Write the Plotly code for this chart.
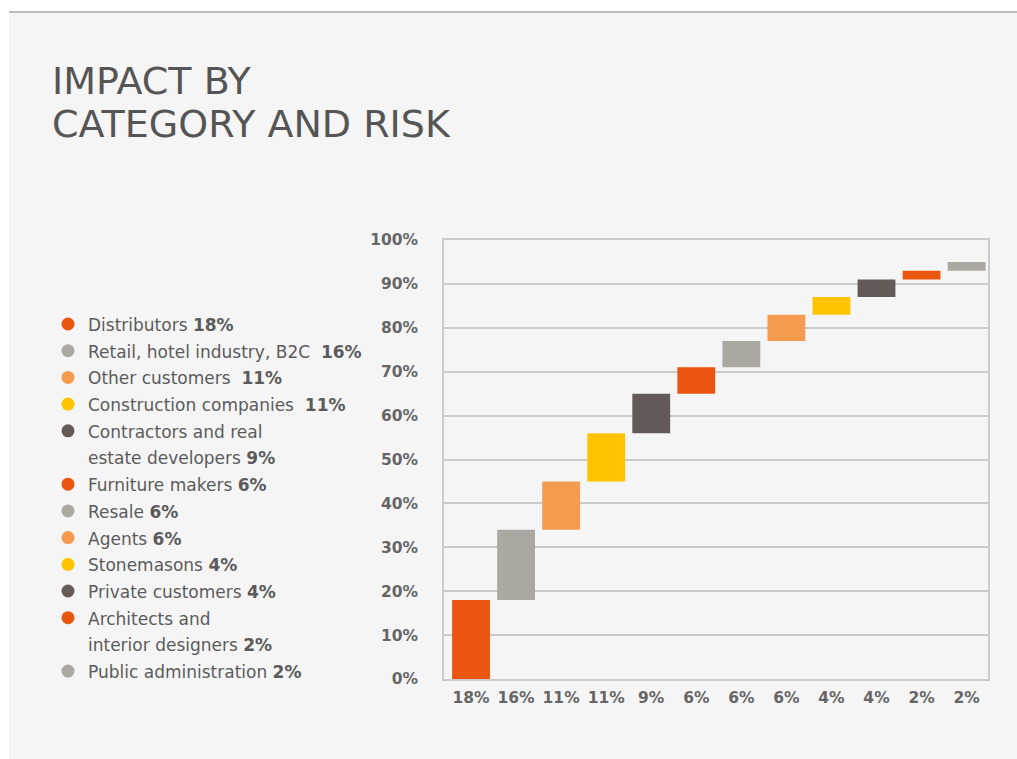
import numpy as np
import plotly.graph_objects as go

# Customer categories and their share of impact (%)
categories = [
    "Distributors",
    "Retail, hotel industry, B2C",
    "Other customers",
    "Construction companies",
    "Contractors and real estate developers",
    "Furniture makers",
    "Resale",
    "Agents",
    "Stonemasons",
    "Private customers",
    "Architects and interior designers",
    "Public administration",
]
shares = [18, 16, 11, 11, 9, 6, 6, 6, 4, 4, 2, 2]

# Legend wording, split where the label wraps
legend_lines = [
    ["Distributors"],
    ["Retail, hotel industry, B2C "],
    ["Other customers "],
    ["Construction companies "],
    ["Contractors and real", "estate developers"],
    ["Furniture makers"],
    ["Resale"],
    ["Agents"],
    ["Stonemasons"],
    ["Private customers"],
    ["Architects and", "interior designers"],
    ["Public administration"],
]

y_ticks = [0, 10, 20, 30, 40, 50, 60, 70, 80, 90, 100]

palette = ["#EA5610", "#ABA7A1", "#F49B50", "#FFC300", "#645B58"]
colors = [palette[i % len(palette)] for i in range(len(categories))]

# Waterfall: each bar starts where the previous one ended
tops = np.cumsum(shares)
bases = tops - np.array(shares)

W, H = 1017, 759
PL, PR, PT, PB = 444, 988, 240, 679  # plot area in pixels


def px_x(px):
    return (px - PL) / (PR - PL)


def px_y(py):
    return (PB - py) / (PB - PT)


TEXT = "#5b5b5b"
FONT = "DejaVu Sans"
ROW = 26.7

fig = go.Figure()
fig.add_trace(go.Bar(
    x=categories,
    y=shares,
    base=bases,
    marker=dict(color=colors, line=dict(width=0)),
    width=0.84,
    hoverinfo="x+y",
    showlegend=False,
))

shapes = [
    # light panel behind everything
    dict(type="rect", xref="paper", yref="paper", layer="below",
         x0=px_x(9), x1=px_x(W + 2), y0=px_y(H + 2), y1=px_y(12),
         fillcolor="#f5f5f5", line=dict(width=0)),
    dict(type="line", xref="paper", yref="paper",
         x0=px_x(9), x1=px_x(W + 2), y0=px_y(12), y1=px_y(12),
         line=dict(color="#bbbbbb", width=2)),
]

annotations = []
for i, line in enumerate(["IMPACT BY", "CATEGORY AND RISK"]):
    annotations.append(dict(
        text=line, xref="paper", yref="paper",
        x=px_x(50), y=px_y(81 + 43 * i), xanchor="left", yanchor="middle",
        showarrow=False, font=dict(family=FONT, size=38, color="#555555"),
    ))

# Custom legend: coloured dot + name + bold share
row_y = 324
for lines, share, color in zip(legend_lines, shares, colors):
    shapes.append(dict(
        type="circle", xref="paper", yref="paper",
        xsizemode="pixel", ysizemode="pixel",
        xanchor=px_x(68), yanchor=px_y(row_y),
        x0=-6.5, x1=6.5, y0=-6.5, y1=6.5,
        fillcolor=color, line=dict(width=0),
    ))
    for j, text in enumerate(lines):
        if j == len(lines) - 1:
            text = f"{text} <b>{share}%</b>"
        annotations.append(dict(
            text=text, xref="paper", yref="paper",
            x=px_x(86), y=px_y(row_y + 1), xanchor="left", yanchor="middle",
            showarrow=False,
            font=dict(family=FONT, size=17, color=TEXT),
        ))
        row_y += ROW

fig.update_layout(
    width=W, height=H,
    margin=dict(l=PL, r=W - PR, t=PT, b=H - PB, pad=0),
    paper_bgcolor="#ffffff",
    plot_bgcolor="#f5f5f5",
    bargap=0.16,
    shapes=shapes,
    annotations=annotations,
    font=dict(family=FONT, color=TEXT),
    xaxis=dict(
        tickmode="array", tickvals=categories,
        ticktext=[f"<b>{s}%</b>" for s in shares],
        tickfont=dict(size=15.5, color="#666666"),
        range=[-0.6, 11.475],
        showgrid=False, showline=True, mirror=True,
        linecolor="#cbcbcb", linewidth=1.5,
        ticks="outside", ticklen=4, tickcolor="rgba(0,0,0,0)",
        fixedrange=True,
    ),
    yaxis=dict(
        range=[0, 100], tickvals=y_ticks,
        ticktext=[f"<b>{v}%</b>" for v in y_ticks],
        tickfont=dict(size=15.5, color="#666666"),
        showgrid=True, gridcolor="#cbcbcb", gridwidth=1.5,
        zeroline=False, showline=True, mirror=True,
        linecolor="#cbcbcb", linewidth=1.5,
        ticks="outside", ticklen=21, tickcolor="rgba(0,0,0,0)",
        fixedrange=True,
    ),
)

fig.write_html("out.html")
